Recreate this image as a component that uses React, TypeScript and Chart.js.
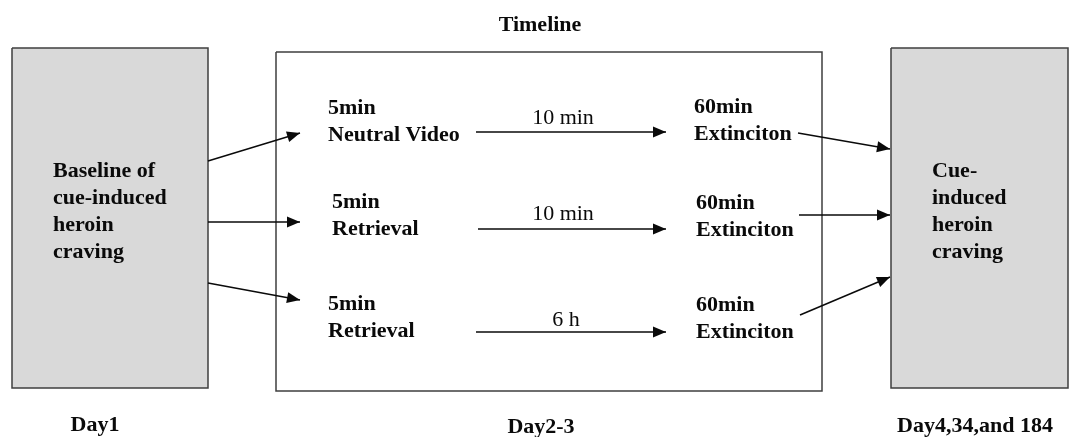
import { useEffect, useRef } from "react";
import { Chart, registerables } from "chart.js";

Chart.register(...registerables);

const W = 1075;
const H = 437;

// Boxes (diagram units = page pixels, y grows downward)
const boxNames = ["Baseline", "Timeline", "Outcome"];
const boxLeft = [12, 276, 891];
const boxRight = [208, 822, 1068];
const boxTop = [48, 52, 48];
const boxBottom = [388, 391, 388];
const boxShaded = [true, false, true];

// Arrows: from (x1,y1) to tip (x2,y2)
const arrowX1 = [208, 208, 208, 476, 478, 476, 798, 799, 800];
const arrowY1 = [161, 222, 283, 132, 229, 332, 133, 215, 315];
const arrowX2 = [300, 300, 300, 666, 666, 666, 890, 890, 890];
const arrowY2 = [133, 222, 300, 132, 229, 332, 149, 215, 277];

// Bold labels (left aligned)
const boldText = [
  "Baseline of", "cue-induced", "heroin", "craving",
  "5min", "Neutral Video", "5min", "Retrieval", "5min", "Retrieval",
  "60min", "Extinciton", "60min", "Extinciton", "60min", "Extinciton",
  "Cue-", "induced", "heroin", "craving",
];
const boldX = [
  53, 53, 53, 53,
  328, 328, 332, 332, 328, 328,
  694, 694, 696, 696, 696, 696,
  932, 932, 932, 932,
];
const boldY = [
  171, 198, 225, 252,
  108, 135, 202, 229, 304, 331,
  107, 134, 203, 230, 305, 332,
  171, 198, 225, 252,
];

// Interval labels (regular, centered)
const intervalText = ["10 min", "10 min", "6 h"];
const intervalX = [563, 563, 566];
const intervalY = [118, 214, 320];

// Centered bold captions
const captionText = ["Timeline", "Day1", "Day2-3", "Day4,34,and 184"];
const captionX = [540, 95, 541, 975];
const captionY = [25, 425, 427, 426];

const BORDER = "#3f3f3f";
const FILL = "#d9d9d9";
const INK = "#0a0a0a";

const overlay = {
  id: "diagramOverlay",
  afterDatasetsDraw(chart: any) {
    const { ctx } = chart;
    const xs = chart.scales.x;
    const ys = chart.scales.y;
    ctx.save();
    // arrowheads
    ctx.fillStyle = INK;
    for (let i = 0; i < arrowX1.length; i++) {
      const x1 = xs.getPixelForValue(arrowX1[i]);
      const y1 = ys.getPixelForValue(arrowY1[i]);
      const x2 = xs.getPixelForValue(arrowX2[i]);
      const y2 = ys.getPixelForValue(arrowY2[i]);
      const a = Math.atan2(y2 - y1, x2 - x1);
      const len = 13;
      const hw = 5.5;
      const bx = x2 - len * Math.cos(a);
      const by = y2 - len * Math.sin(a);
      ctx.beginPath();
      ctx.moveTo(x2, y2);
      ctx.lineTo(bx + hw * Math.sin(a), by - hw * Math.cos(a));
      ctx.lineTo(bx - hw * Math.sin(a), by + hw * Math.cos(a));
      ctx.closePath();
      ctx.fill();
    }
    ctx.fillStyle = INK;
    ctx.textBaseline = "middle";
    ctx.font = 'bold 22px "Liberation Serif"';
    ctx.textAlign = "left";
    for (let i = 0; i < boldText.length; i++) {
      ctx.fillText(boldText[i], xs.getPixelForValue(boldX[i]), ys.getPixelForValue(boldY[i]));
    }
    ctx.textAlign = "center";
    for (let i = 0; i < captionText.length; i++) {
      ctx.fillText(captionText[i], xs.getPixelForValue(captionX[i]), ys.getPixelForValue(captionY[i]));
    }
    ctx.font = '22px "Liberation Serif"';
    for (let i = 0; i < intervalText.length; i++) {
      ctx.fillText(intervalText[i], xs.getPixelForValue(intervalX[i]), ys.getPixelForValue(intervalY[i]));
    }
    ctx.restore();
  },
};

export default function App() {
  const ref = useRef<HTMLCanvasElement | null>(null);
  useEffect(() => {
    if (!ref.current) return;
    const datasets: any[] = [];
    for (let i = 0; i < boxNames.length; i++) {
      datasets.push({
        label: boxNames[i],
        data: [
          { x: boxLeft[i], y: boxTop[i] },
          { x: boxRight[i], y: boxTop[i] },
          { x: boxRight[i], y: boxBottom[i] },
          { x: boxLeft[i], y: boxBottom[i] },
          { x: boxLeft[i], y: boxTop[i] },
        ],
        showLine: true,
        fill: boxShaded[i] ? "shape" : false,
        backgroundColor: boxShaded[i] ? FILL : "rgba(0,0,0,0)",
        borderColor: BORDER,
        borderWidth: 1.5,
        pointRadius: 0,
        tension: 0,
        order: 2,
      });
    }
    for (let i = 0; i < arrowX1.length; i++) {
      datasets.push({
        label: "arrow" + i,
        data: [
          { x: arrowX1[i], y: arrowY1[i] },
          { x: arrowX2[i], y: arrowY2[i] },
        ],
        showLine: true,
        fill: false,
        borderColor: INK,
        borderWidth: 1.5,
        pointRadius: 0,
        tension: 0,
        order: 1,
      });
    }
    const chart = new Chart(ref.current, {
      type: "scatter",
      data: { datasets },
      options: {
        animation: false,
        responsive: false,
        events: [],
        layout: { padding: 0 },
        plugins: { legend: { display: false }, tooltip: { enabled: false } },
        scales: {
          x: { type: "linear", min: 0, max: W, display: false },
          y: { type: "linear", min: 0, max: H, reverse: true, display: false },
        },
      },
      plugins: [overlay],
    });
    return () => chart.destroy();
  }, []);
  return (
    <div style={{ position: "absolute", left: 0, top: 0, width: W, height: H, background: "#fff" }}>
      <canvas ref={ref} width={W} height={H} style={{ width: W, height: H, display: "block" }} />
    </div>
  );
}
